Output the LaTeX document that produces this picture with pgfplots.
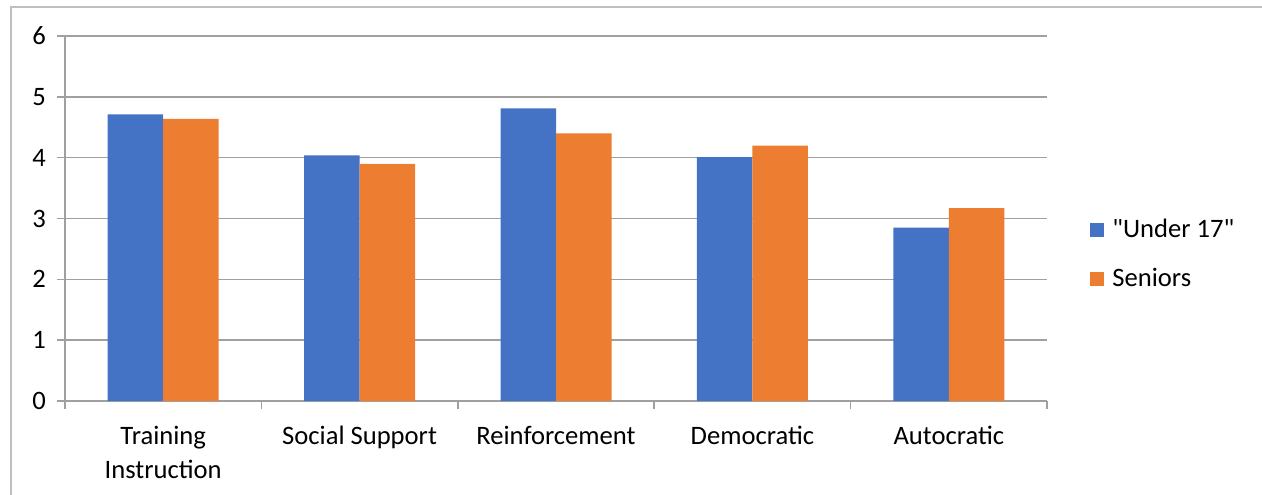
\documentclass[border=0pt]{standalone}
\usepackage{pgfplots}
\pgfplotsset{compat=1.18}
\usepackage{fontspec}
\setmainfont{Carlito}[Ligatures=TeXOff]
\definecolor{cblue}{HTML}{4472C4}
\definecolor{corange}{HTML}{ED7D31}
\definecolor{cgrid}{HTML}{A0A0A0}
\definecolor{cframe}{HTML}{BFBFBF}
\begin{document}
\begin{tikzpicture}
\useasboundingbox (0,0) rectangle (631pt,-247pt);
\draw[cframe, line width=1pt] (5.3pt,-260pt) -- (5.3pt,-3.3pt) -- (640pt,-3.3pt);
\begin{axis}[
  at={(32.5pt,-200.5pt)}, anchor=south west,
  scale only axis, width=491pt, height=182.5pt,
  xmin=-0.5, xmax=4.5, ymin=0, ymax=6,
  axis lines*=left,
  axis line style={cgrid, line width=0.75pt},
  ytick={0,...,6},
  ymajorgrids, grid style={cgrid, line width=0.75pt},
  xtick={0,...,4},
  xticklabels={{Training\\Instruction},{Social Support},{Reinforcement},{Democratic},{Autocratic}},
  xticklabel style={align=center, yshift=-5pt},
  major x tick style={draw=none},
  minor xtick={-0.5,0.5,...,4.5},
  minor tick length=4pt,
  minor x tick style={cgrid, line width=0.75pt},
  tick align=outside,
  major tick length=4pt,
  ytick style={cgrid, line width=0.75pt},
  yticklabel style={xshift=-2pt},
  ticklabel style={font=\fontsize{13.3}{17}\selectfont, text=black},
  /pgf/number format/assume math mode=true,
  ybar, bar width=0.2826,
  legend style={at={(1.0438,0.4023)}, anchor=west, draw=none, fill=none, inner sep=0pt,
    font=\fontsize{13.3}{16}\selectfont, row sep=10pt, cells={anchor=west},
    nodes={inner xsep=4pt}},
  legend image code/.code={\fill[#1] (0pt,-3.5pt) rectangle (7pt,3.5pt);},
]
\addplot[fill=cblue, draw=none, bar shift=-0.1413] coordinates {(0,4.71) (1,4.04) (2,4.81) (3,4.01) (4,2.85)};
\addplot[fill=corange, draw=none, bar shift=0.1413] coordinates {(0,4.64) (1,3.90) (2,4.40) (3,4.20) (4,3.17)};
\legend{"Under 17",Seniors}
\end{axis}
\end{tikzpicture}
\end{document}
